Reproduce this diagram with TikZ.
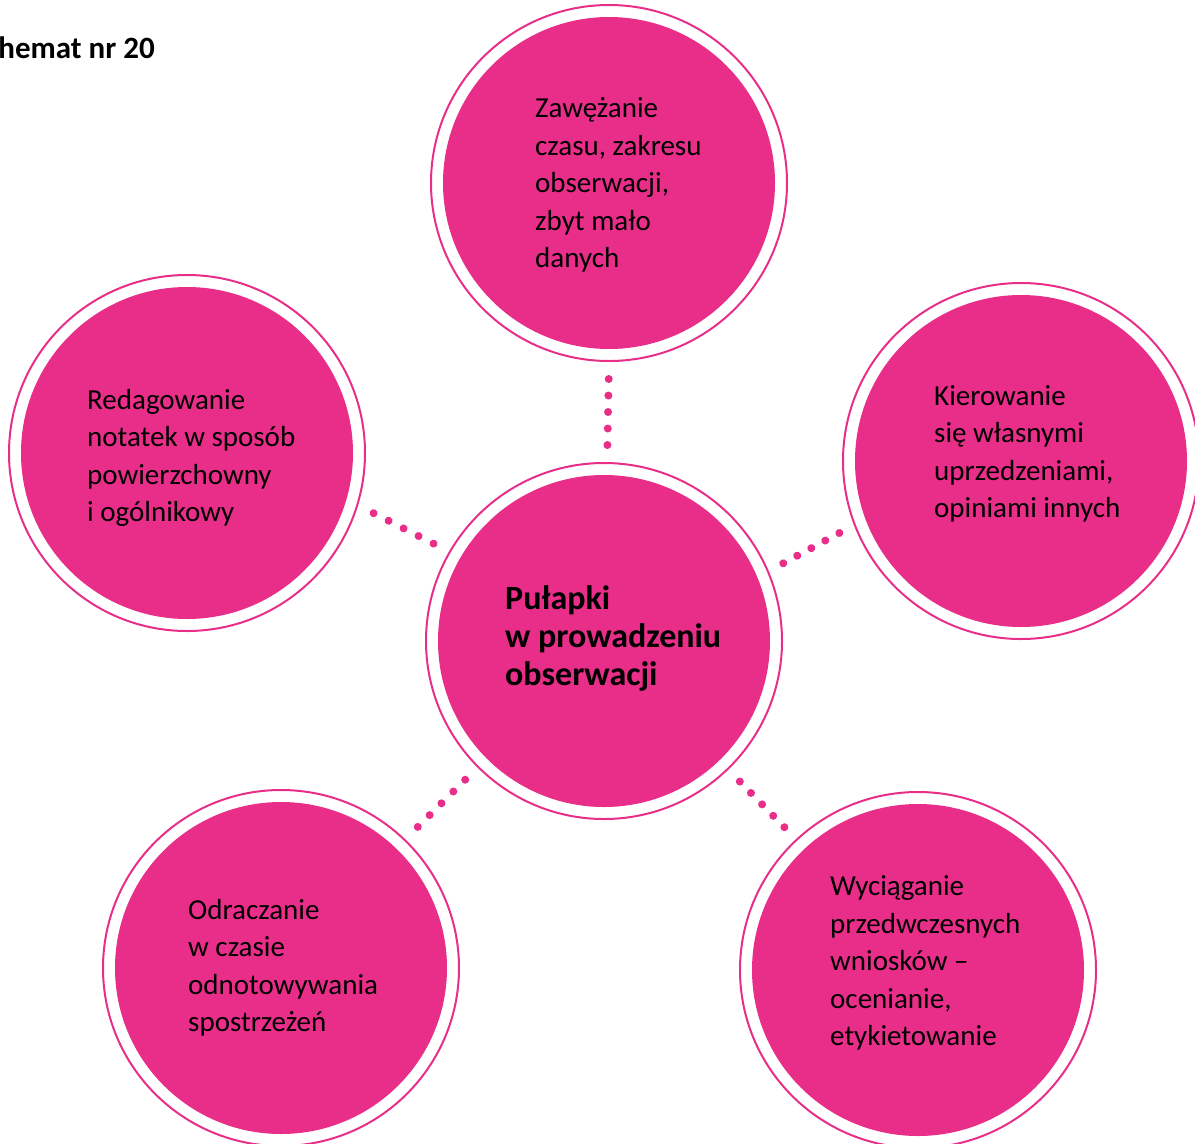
\documentclass[tikz,border=0pt]{standalone}
\usepackage{fontspec}
\setmainfont{Carlito}
\usetikzlibrary{decorations.markings}
\definecolor{pk}{RGB}{232,46,137}
\begin{document}
\begin{tikzpicture}[x=1pt,y=-1pt,
  trap/.style={circle, draw=pk, line width=2pt, minimum size=356pt, inner sep=0pt,
    path picture={\fill[pk] (path picture bounding box.center) circle (166pt);}},
  lbl/.style={anchor=west, align=left, inner sep=0pt, font=\fontsize{29}{37.5}\selectfont},
  dotlink/.style={postaction={decorate}, decoration={markings,
    mark=between positions 0.17 and 0.84 step 0.165 with {\fill[pk] (0,0) circle (4pt);}}}]
\useasboundingbox (0,0) rectangle (1195,1144);
\node[trap] (c0) at (604,641) {};
\node[trap] (top) at (609,183) {};
\node[trap] (L) at (187,453) {};
\node[trap] (R) at (1021,461) {};
\node[trap] (BL) at (281,968) {};
\node[trap] (BR) at (918,970) {};
\node[anchor=base east, inner sep=0pt, font=\bfseries\fontsize{31}{36}\selectfont] (title) at (155,58) {Schemat nr 20};
\node[lbl, font=\bfseries\fontsize{34}{38}\selectfont] (t0) at (505,638) {Pułapki\\w prowadzeniu\\obserwacji};
\node[lbl] (ttop) at (535,185) {Zawężanie\\czasu, zakresu\\obserwacji,\\zbyt mało\\danych};
\node[lbl] (tL) at (87,458) {Redagowanie\\notatek w sposób\\powierzchowny\\i ogólnikowy};
\node[lbl] (tR) at (934,454) {Kierowanie\\się własnymi\\uprzedzeniami,\\opiniami innych};
\node[lbl] (tBL) at (188,968) {Odraczanie\\w czasie\\odnotowywania\\spostrzeżeń};
\node[lbl] (tBR) at (830,963) {Wyciąganie\\przedwczesnych\\wniosków –\\ocenianie,\\etykietowanie};
\path[dotlink] (top.-90.7) -- (c0.89);
\path[dotlink] (L.-17) -- (c0.150);
\path[dotlink] (c0.23) -- (R.201);
\path[dotlink] (c0.225) -- (BL.46);
\path[dotlink] (c0.-46) -- (BR.133);
\end{tikzpicture}
\end{document}
